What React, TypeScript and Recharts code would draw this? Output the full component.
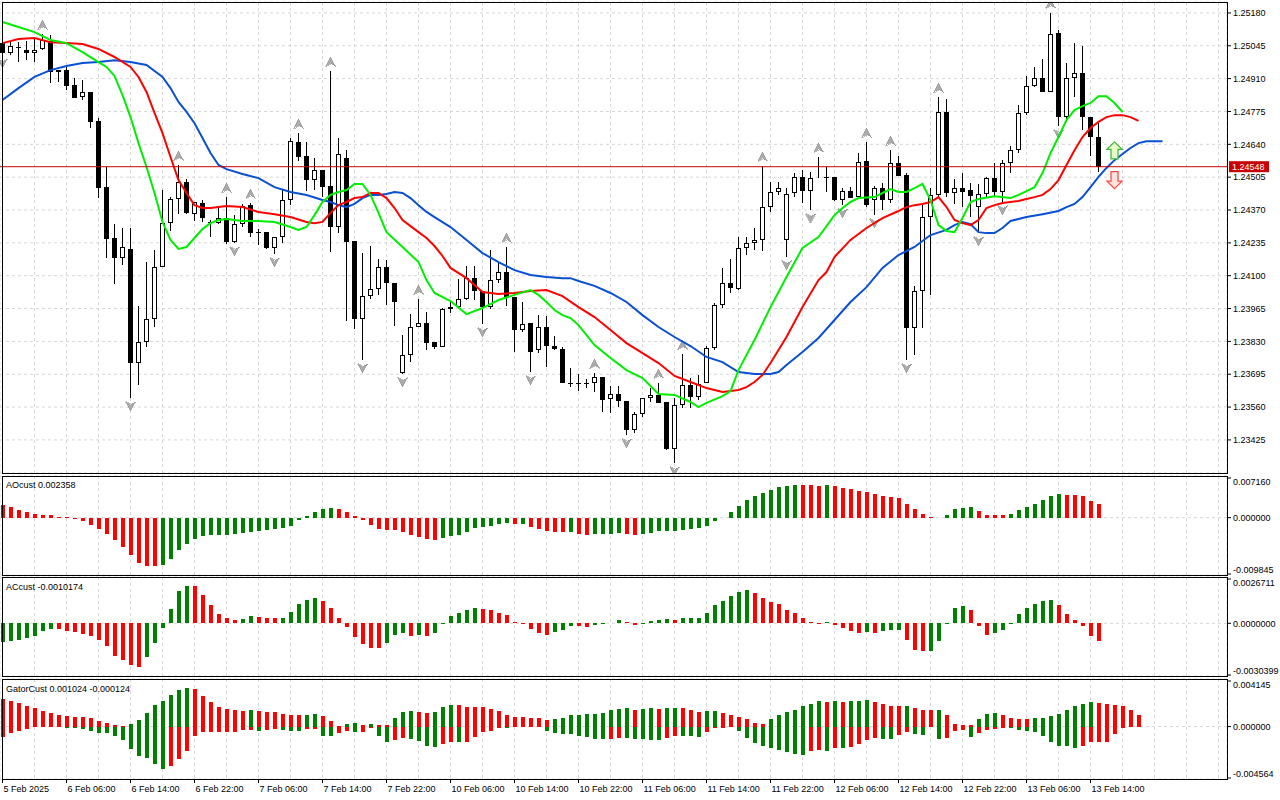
import React from 'react';
import {
  ComposedChart,
  Bar,
  Line,
  XAxis,
  YAxis,
  CartesianGrid,
  ReferenceLine,
  ReferenceDot,
} from 'recharts';

// ---- price data (H1 candles, 5 Feb 22:00 .. 13 Feb 15:00) ----
const opens = [
  1.25056, 1.25015, 1.2504, 1.25027, 1.25015, 1.25032, 1.25064, 1.24937, 1.24945, 1.24884,
  1.24834, 1.24855, 1.24736, 1.24464, 1.24255, 1.24173, 1.2421, 1.23741, 1.23827, 1.23922,
  1.24136, 1.24316, 1.24415, 1.24485, 1.24353, 1.24399, 1.24321, 1.24316, 1.24337, 1.24238,
  1.24312, 1.2439, 1.24279, 1.24279, 1.24214, 1.24259, 1.24411, 1.24649, 1.24592, 1.24493,
  1.24534, 1.24469, 1.243, 1.24584, 1.24242, 1.23922, 1.24016, 1.24045, 1.24136, 1.2407,
  1.237, 1.23774, 1.23889, 1.23905, 1.23827, 1.23807, 1.23963, 1.23971, 1.24004, 1.2409,
  1.24037, 1.23971, 1.24082, 1.24115, 1.24012, 1.23877, 1.23905, 1.23794, 1.23889, 1.23811,
  1.23799, 1.23659, 1.23659, 1.23659, 1.23659, 1.23684, 1.23593, 1.23614, 1.23585, 1.23466,
  1.23531, 1.23597, 1.2361, 1.23581, 1.23388, 1.23568, 1.23651, 1.23601, 1.23659, 1.23803,
  1.23979, 1.2407, 1.24045, 1.24214, 1.24234, 1.24247, 1.24382, 1.24444, 1.24247, 1.2444,
  1.24506, 1.24448, 1.24501, 1.24506, 1.24506, 1.24411, 1.24448, 1.24423, 1.24571, 1.24411,
  1.2446, 1.24411, 1.24563, 1.24514, 1.23885, 1.24037, 1.24341, 1.24432, 1.24773, 1.2444,
  1.2446, 1.24452, 1.24382, 1.24436, 1.24501, 1.24444, 1.24563, 1.24616, 1.24769, 1.2488,
  1.24912, 1.24855, 1.25097, 1.24752, 1.24912, 1.24933, 1.24752, 1.2467,
];
const highs = [
  1.25069, 1.25064, 1.2506, 1.25064, 1.25077, 1.25093, 1.25089, 1.24945, 1.24966, 1.24912,
  1.24904, 1.24855, 1.24748, 1.24547, 1.24312, 1.24296, 1.24296, 1.23975, 1.24156, 1.24205,
  1.24452, 1.24423, 1.24555, 1.24497, 1.24403, 1.24411, 1.24329, 1.24382, 1.24423, 1.24349,
  1.24395, 1.24399, 1.24292, 1.24279, 1.24259, 1.24452, 1.24666, 1.24686, 1.24649, 1.24584,
  1.24534, 1.24941, 1.24666, 1.24616, 1.24242, 1.24193, 1.24222, 1.24169, 1.24164, 1.2407,
  1.23856, 1.23942, 1.24004, 1.23951, 1.23827, 1.23967, 1.24, 1.24086, 1.2414, 1.2414,
  1.24037, 1.24205, 1.24156, 1.24218, 1.24012, 1.23992, 1.23905, 1.23938, 1.23934, 1.23852,
  1.23807, 1.23721, 1.23696, 1.23675, 1.237, 1.23684, 1.23647, 1.23647, 1.23585, 1.2354,
  1.23597, 1.23638, 1.23659, 1.23581, 1.23597, 1.23778, 1.23679, 1.23692, 1.23811, 1.23988,
  1.24132, 1.24169, 1.24259, 1.24259, 1.24296, 1.24551, 1.24485, 1.24485, 1.2446, 1.24522,
  1.24534, 1.24526, 1.24588, 1.24547, 1.24506, 1.2446, 1.24464, 1.24604, 1.24649, 1.24469,
  1.24481, 1.24616, 1.24592, 1.24522, 1.24058, 1.24395, 1.2446, 1.24834, 1.24826, 1.24497,
  1.24522, 1.24481, 1.24477, 1.24506, 1.24563, 1.24575, 1.24633, 1.24801, 1.24921, 1.24958,
  1.24991, 1.2518, 1.2511, 1.24974, 1.25056, 1.25044, 1.24752, 1.24732,
];
const lows = [
  1.25007, 1.25007, 1.24978, 1.24986, 1.24978, 1.25027, 1.24892, 1.24896, 1.24863, 1.2483,
  1.24822, 1.24707, 1.24419, 1.24173, 1.24066, 1.24144, 1.23597, 1.23651, 1.23807, 1.23889,
  1.24136, 1.24284, 1.24353, 1.24353, 1.24325, 1.24321, 1.24259, 1.24312, 1.2423, 1.24234,
  1.243, 1.24259, 1.24226, 1.2421, 1.24189, 1.24234, 1.2439, 1.24571, 1.24448, 1.24452,
  1.24423, 1.24197, 1.24275, 1.23914, 1.23881, 1.23753, 1.24004, 1.24021, 1.23979, 1.23893,
  1.23696, 1.23745, 1.23889, 1.23794, 1.23799, 1.23807, 1.23947, 1.23971, 1.24, 1.24,
  1.23901, 1.23963, 1.2407, 1.23975, 1.23786, 1.23868, 1.23704, 1.23782, 1.23725, 1.23794,
  1.23659, 1.23642, 1.23626, 1.23638, 1.23622, 1.2354, 1.23536, 1.2356, 1.23445, 1.23453,
  1.23519, 1.23581, 1.23577, 1.23383, 1.2333, 1.23556, 1.23556, 1.23589, 1.23659, 1.23794,
  1.23967, 1.24029, 1.24041, 1.24185, 1.24205, 1.24201, 1.24362, 1.24432, 1.24177, 1.24423,
  1.24399, 1.2437, 1.24501, 1.24444, 1.24407, 1.2439, 1.24419, 1.24423, 1.24382, 1.24349,
  1.2437, 1.24399, 1.2451, 1.23753, 1.23774, 1.23885, 1.24021, 1.24423, 1.24423, 1.24395,
  1.24382, 1.24341, 1.24275, 1.24419, 1.24427, 1.24403, 1.24522, 1.24604, 1.2476, 1.24875,
  1.24855, 1.24855, 1.24715, 1.24732, 1.24834, 1.24699, 1.24592, 1.24526,
];
const closes = [
  1.25015, 1.25044, 1.25036, 1.25015, 1.25027, 1.25069, 1.24937, 1.24945, 1.2488, 1.2483,
  1.24855, 1.24732, 1.2446, 1.24251, 1.24173, 1.24218, 1.23741, 1.23827, 1.23922, 1.24136,
  1.24316, 1.24415, 1.24485, 1.24358, 1.24403, 1.24337, 1.24316, 1.24337, 1.24238, 1.24312,
  1.24386, 1.24275, 1.24275, 1.24214, 1.24259, 1.24411, 1.24653, 1.24588, 1.24493, 1.24534,
  1.24464, 1.243, 1.246, 1.24238, 1.23922, 1.24016, 1.24045, 1.24136, 1.2407, 1.23992,
  1.23774, 1.23889, 1.23905, 1.23823, 1.23807, 1.23963, 1.23971, 1.24004, 1.2409, 1.24037,
  1.23971, 1.24082, 1.24115, 1.24012, 1.23877, 1.23901, 1.23786, 1.23889, 1.23811, 1.23799,
  1.23659, 1.23655, 1.23659, 1.23659, 1.23684, 1.23589, 1.23614, 1.23585, 1.23466, 1.23531,
  1.23597, 1.2361, 1.23577, 1.23388, 1.23568, 1.23651, 1.23601, 1.23655, 1.23803, 1.23979,
  1.2407, 1.24049, 1.24214, 1.24234, 1.24247, 1.24382, 1.24444, 1.2446, 1.24436, 1.24506,
  1.24448, 1.24501, 1.24506, 1.24504, 1.24411, 1.24448, 1.24419, 1.24567, 1.2439, 1.2446,
  1.24411, 1.24563, 1.2451, 1.23885, 1.24037, 1.24341, 1.24432, 1.24773, 1.2444, 1.2446,
  1.24444, 1.24427, 1.24436, 1.24501, 1.24444, 1.24563, 1.24616, 1.24769, 1.2488, 1.24912,
  1.24855, 1.25093, 1.24752, 1.24912, 1.24933, 1.24752, 1.2467, 1.24548,
];

// alligator lines, [bar index, price] (already shifted forward)
const jaw: [number, number][] = [
  [0, 1.24822], [2, 1.24871], [4, 1.24917], [6, 1.24945], [8, 1.24962], [10, 1.24974], [12, 1.24978],
  [14, 1.24986], [16, 1.24978], [18, 1.24966], [20, 1.24917], [21, 1.24871], [22, 1.24814], [23, 1.24773],
  [24, 1.24727], [25, 1.24666], [26, 1.24604], [27, 1.24555], [28, 1.24538], [30, 1.24518], [32, 1.24501],
  [34, 1.24464], [36, 1.24444], [38, 1.24432], [40, 1.24411], [41, 1.24403], [42, 1.2439], [43, 1.24382],
  [44, 1.24395], [45, 1.24419], [46, 1.24432], [47, 1.24432], [48, 1.24436], [49, 1.24444], [50, 1.2444],
  [51, 1.24419], [52, 1.2439], [53, 1.24362], [54, 1.24341], [56, 1.243], [58, 1.24247], [60, 1.24193],
  [62, 1.24156], [64, 1.24123], [66, 1.24103], [68, 1.24095], [70, 1.2409], [71, 1.2409], [72, 1.24078],
  [74, 1.24058], [76, 1.24029], [78, 1.23992], [80, 1.23938], [82, 1.23889], [84, 1.23848], [86, 1.23811],
  [88, 1.23766], [90, 1.23745], [92, 1.23704], [94, 1.23696], [96, 1.23696], [97, 1.23704], [98, 1.23733],
  [100, 1.23786], [102, 1.23844], [104, 1.23918], [106, 1.23992], [108, 1.24053], [110, 1.24132],
  [112, 1.24185], [114, 1.24218], [116, 1.24267], [118, 1.24288], [119, 1.24308], [120, 1.24321],
  [121, 1.24312], [122, 1.24279], [123, 1.24275], [124, 1.24275], [125, 1.24296], [126, 1.24325],
  [128, 1.24341], [130, 1.24353], [132, 1.24366], [133, 1.24382], [134, 1.24395], [135, 1.24423],
  [136, 1.24464], [137, 1.24506], [138, 1.24543], [139, 1.24575], [140, 1.246], [141, 1.24625],
  [142, 1.24645], [143, 1.24653], [145, 1.24653],
];
const teeth: [number, number][] = [
  [0, 1.25056], [2, 1.25073], [4, 1.25077], [6, 1.2506], [8, 1.25056], [10, 1.25052], [12, 1.25032],
  [14, 1.24999], [16, 1.24958], [17, 1.24917], [18, 1.24855], [19, 1.24769], [20, 1.24686], [21, 1.24588],
  [22, 1.24493], [23, 1.2444], [24, 1.2439], [25, 1.24378], [26, 1.24378], [27, 1.24382], [28, 1.24386],
  [30, 1.24382], [32, 1.24362], [34, 1.24353], [36, 1.24341], [38, 1.24321], [39, 1.24316], [40, 1.24321],
  [41, 1.24358], [42, 1.2439], [43, 1.24403], [44, 1.24419], [45, 1.24423], [46, 1.2444], [47, 1.2444],
  [48, 1.24419], [49, 1.24378], [50, 1.24329], [52, 1.24279], [53, 1.24255], [54, 1.24222], [55, 1.24181],
  [56, 1.24132], [58, 1.2409], [60, 1.24033], [62, 1.24025], [64, 1.24029], [66, 1.24037], [68, 1.24041],
  [70, 1.24016], [72, 1.23971], [74, 1.2393], [76, 1.23877], [78, 1.23823], [80, 1.23782], [82, 1.23741],
  [84, 1.23688], [86, 1.23663], [88, 1.23638], [90, 1.23622], [92, 1.2363], [93, 1.23642], [94, 1.23663],
  [95, 1.23692], [96, 1.23741], [98, 1.23848], [100, 1.23971], [102, 1.24082], [103, 1.24115],
  [104, 1.24177], [106, 1.24247], [108, 1.24296], [110, 1.24337], [112, 1.24366], [113, 1.24382],
  [114, 1.2439], [115, 1.24395], [116, 1.24403], [117, 1.24423], [118, 1.24382], [119, 1.24329],
  [120, 1.24316], [121, 1.24308], [122, 1.24329], [123, 1.24378], [124, 1.2439], [125, 1.24399],
  [127, 1.24407], [128, 1.24415], [129, 1.24423], [130, 1.24432], [131, 1.24456], [132, 1.24493],
  [133, 1.24555], [134, 1.24616], [135, 1.2467], [136, 1.24707], [137, 1.24732], [138, 1.24752],
  [139, 1.2476], [140, 1.2476], [141, 1.24752], [142, 1.24736],
];
const lips: [number, number][] = [
  [0, 1.25143], [2, 1.25122], [4, 1.25101], [6, 1.25069], [8, 1.25056], [10, 1.25019], [12, 1.24978],
  [13, 1.24958], [14, 1.24921], [15, 1.24842], [16, 1.24752], [17, 1.24645], [18, 1.24547], [19, 1.2444],
  [20, 1.24321], [21, 1.24247], [22, 1.2421], [23, 1.24218], [24, 1.24255], [25, 1.24292], [26, 1.24316],
  [27, 1.24329], [28, 1.24333], [30, 1.24325], [32, 1.24325], [34, 1.24321], [36, 1.243], [37, 1.24288],
  [38, 1.243], [39, 1.24349], [40, 1.24403], [41, 1.24432], [42, 1.24444], [43, 1.24452], [44, 1.24477],
  [45, 1.24477], [46, 1.24432], [47, 1.24358], [48, 1.24279], [50, 1.24218], [52, 1.24156], [53, 1.24082],
  [54, 1.24029], [56, 1.23996], [58, 1.23942], [60, 1.23967], [62, 1.24], [64, 1.24021], [66, 1.24041],
  [67, 1.24021], [68, 1.23992], [69, 1.23959], [70, 1.23938], [71, 1.23926], [72, 1.23897], [74, 1.23815],
  [76, 1.23762], [78, 1.23712], [80, 1.23679], [82, 1.23614], [84, 1.2361], [86, 1.23581], [87, 1.2356],
  [88, 1.23577], [90, 1.23605], [91, 1.23626], [92, 1.23712], [94, 1.23836], [96, 1.23971], [98, 1.24095],
  [100, 1.24214], [102, 1.24259], [104, 1.24349], [105, 1.24378], [106, 1.24403], [107, 1.24419],
  [109, 1.24423], [110, 1.2444], [111, 1.24456], [112, 1.24444], [113, 1.24444], [114, 1.2446],
  [115, 1.24477], [116, 1.24411], [117, 1.24308], [118, 1.24284], [119, 1.24279], [120, 1.24337],
  [121, 1.24403], [122, 1.24415], [124, 1.24427], [126, 1.24419], [127, 1.24432], [128, 1.24448],
  [129, 1.24464], [130, 1.24522], [131, 1.24604], [132, 1.2467], [133, 1.2474], [134, 1.24781],
  [135, 1.24797], [136, 1.2481], [137, 1.24838], [138, 1.24838], [139, 1.2481], [140, 1.24773],
];

// bars carrying a fractal mark
const fractalUps = [5, 22, 28, 31, 37, 41, 52, 63, 74, 82, 85, 95, 102, 108, 111, 117, 131];
const fractalDowns = [0, 16, 29, 34, 45, 50, 60, 66, 78, 84, 98, 101, 105, 109, 113, 122, 125, 132];

// signal arrows right of the last bar
const signalUp = { i: 139, price: 1.24615 };
const signalDown = { i: 139, price: 1.24493 };

const lastPrice = 1.24548;

// ---- oscillators ----
const aoValues = [
  0.00221, 0.00176, 0.00136, 0.00096, 0.00068, 0.00051, 0.00049, 0.00017, 0.00006, -0.00028,
  -0.00062, -0.00119, -0.00187, -0.00272, -0.00386, -0.00505, -0.00646, -0.00782, -0.00828, -0.00834,
  -0.00816, -0.00714, -0.00561, -0.00459, -0.00374, -0.00318, -0.00306, -0.00301, -0.00289, -0.00286,
  -0.00266, -0.00244, -0.00221, -0.00215, -0.00193, -0.00176, -0.00136, -0.0004, 0.00034, 0.00102,
  0.00142, 0.00159, 0.00142, 0.00102, 0.00034, -0.00034, -0.00119, -0.00187, -0.0021, -0.00215,
  -0.00249, -0.00306, -0.00335, -0.00369, -0.00386, -0.00352, -0.00318, -0.00289, -0.00249, -0.00181,
  -0.00164, -0.00136, -0.00113, -0.00096, -0.00113, -0.00111, -0.00164, -0.00198, -0.00232, -0.00249,
  -0.00252, -0.00248, -0.00272, -0.00289, -0.00286, -0.00283, -0.00272, -0.00269, -0.00275, -0.00289,
  -0.00284, -0.00261, -0.00232, -0.0023, -0.00227, -0.00215, -0.00198, -0.00176, -0.00147, -0.00062,
  -0.00011, 0.00102, 0.00204, 0.00306, 0.00374, 0.0042, 0.00476, 0.00522, 0.00544, 0.00561,
  0.00559, 0.00557, 0.00544, 0.00561, 0.00544, 0.00516, 0.00493, 0.00465, 0.00448, 0.00408,
  0.00374, 0.00363, 0.00346, 0.00238, 0.00142, 0.00068, 0.00006, -0.00005, 0.00051, 0.00142,
  0.00159, 0.00176, 0.00108, 0.00051, 0.00049, 0.00047, 0.00068, 0.00125, 0.00176, 0.00238,
  0.00312, 0.00374, 0.00408, 0.00391, 0.00389, 0.00374, 0.00289, 0.002358,
];
const acValues = [
  -0.00105, -0.00101, -0.00095, -0.00086, -0.00072, -0.00044, -0.00032, -0.00033, -0.00042, -0.00051,
  -0.00061, -0.00074, -0.00095, -0.00133, -0.00186, -0.00209, -0.00243, -0.00251, -0.00192, -0.00114,
  -0.00025, 0.0008, 0.00184, 0.00217, 0.00215, 0.00165, 0.00103, 0.00051, 0.00029, 0.00019,
  0.00027, 0.0004, 0.00036, 0.00029, 0.00028, 0.00029, 0.00063, 0.00114, 0.00137, 0.00148,
  0.00127, 0.00086, 0.00029, -0.00019, -0.0008, -0.00118, -0.00141, -0.00142, -0.00114, -0.00065,
  -0.00057, -0.00074, -0.00068, -0.00075, -0.00057, -0.00004, 0.00042, 0.00057, 0.00076, 0.00091,
  0.00082, 0.00076, 0.00059, 0.00046, 0.00006, -0.00004, -0.00032, -0.00057, -0.00068, -0.00051,
  -0.00038, -0.00015, -0.00017, -0.00019, -0.0001, -0.00006, 0.00004, 0.00017, 0.00006, -0.0001,
  -0.00004, 0.00011, 0.00021, 0.00023, 0.00017, 0.00029, 0.0003, 0.00031, 0.00057, 0.00103,
  0.00131, 0.0016, 0.00182, 0.00194, 0.00177, 0.00148, 0.00125, 0.00114, 0.00075, 0.00057,
  0.00029, 0.00006, -0.00002, 0.00006, -0.0001, -0.00027, -0.00044, -0.00055, -0.00049, -0.00055,
  -0.00044, -0.0004, -0.00038, -0.00095, -0.00152, -0.00158, -0.00157, -0.00101, -0.00004, 0.00086,
  0.00097, 0.00076, -0.00015, -0.00067, -0.00055, -0.00038, -0.00004, 0.00051, 0.00086, 0.00114,
  0.00131, 0.00137, 0.00103, 0.00051, 0.00017, -0.00017, -0.00072, -0.0010174,
];
const gatorUpper = [
  0.00241, 0.00226, 0.00203, 0.00183, 0.00165, 0.00139, 0.00122, 0.00104, 0.00096, 0.00087,
  0.00081, 0.00078, 0.00052, 0.00035, 0.00015, 0.00009, 0.00023, 0.00061, 0.00122, 0.00189,
  0.00226, 0.00278, 0.00322, 0.00339, 0.00331, 0.00267, 0.00218, 0.00174, 0.00151, 0.00142,
  0.00133, 0.00142, 0.00133, 0.00125, 0.00124, 0.00113, 0.00104, 0.00103, 0.00105, 0.00113,
  0.00096, 0.00052, 0.00009, 0.00026, 0.00029, 0.00017, 0.00026, 0.00012, 0.0001, 0.00073,
  0.0013, 0.00133, 0.00131, 0.00122, 0.0013, 0.00174, 0.00191, 0.0019, 0.00174, 0.00173,
  0.00172, 0.00157, 0.00133, 0.00104, 0.00087, 0.00086, 0.00078, 0.00073, 0.00055, 0.0007,
  0.00078, 0.00104, 0.00105, 0.00113, 0.00114, 0.00122, 0.00142, 0.00157, 0.00158, 0.00148,
  0.00157, 0.00158, 0.00157, 0.00158, 0.00165, 0.00164, 0.00148, 0.00131, 0.00133, 0.00139,
  0.00122, 0.00104, 0.00087, 0.0007, 0.00035, 0.00026, 0.0007, 0.00104, 0.00131, 0.00148,
  0.00183, 0.002, 0.00226, 0.00218, 0.00219, 0.00218, 0.00226, 0.00227, 0.00228, 0.00218,
  0.002, 0.00183, 0.00182, 0.00183, 0.00165, 0.00148, 0.00147, 0.00148, 0.00104, 0.00026,
  0.00017, 0.00015, 0.0007, 0.00113, 0.00122, 0.00104, 0.00078, 0.0007, 0.00069, 0.00073,
  0.00078, 0.0009, 0.00113, 0.00148, 0.00183, 0.002, 0.00218, 0.00209, 0.002, 0.00191,
  0.00183, 0.00148, 0.001024,
];
const gatorLower = [
  -0.00087, -0.00058, -0.00041, -0.00023, -0.00005, -0.00002, -0.00004, -0.00005, -0.00008, -0.00012,
  -0.00023, -0.00041, -0.00052, -0.00058, -0.00078, -0.00119, -0.00197, -0.00258, -0.00276, -0.00322,
  -0.00371, -0.00345, -0.00281, -0.00209, -0.00078, -0.00049, -0.00048, -0.00047, -0.00046, -0.00045,
  -0.00029, -0.00028, -0.00041, -0.00026, -0.00025, -0.00032, -0.00041, -0.00042, -0.00023, -0.00022,
  -0.00078, -0.0008, -0.00058, -0.00038, -0.00049, -0.00048, -0.00009, -0.00078, -0.00136, -0.00116,
  -0.00102, -0.00107, -0.00122, -0.00165, -0.0018, -0.00151, -0.00131, -0.00136, -0.0013, -0.00093,
  -0.00049, -0.00035, -0.00015, -0.00016, -0.00006, -0.00005, -0.00006, -0.00005, -0.00041, -0.00058,
  -0.00067, -0.00068, -0.00078, -0.00093, -0.00107, -0.00108, -0.00107, -0.00101, -0.00102, -0.00107,
  -0.00108, -0.00113, -0.00119, -0.00101, -0.00078, -0.0008, -0.00082, -0.00093, -0.00049, -0.00015,
  -0.00012, -0.00006, -0.00041, -0.00101, -0.00145, -0.00165, -0.00183, -0.002, -0.00218, -0.00235,
  -0.00244, -0.00209, -0.002, -0.00209, -0.00189, -0.0019, -0.00174, -0.00154, -0.00119, -0.00101,
  -0.0011, -0.00111, -0.00075, -0.00049, -0.00067, -0.00075, -0.00006, -0.0011, -0.00096, -0.00035,
  -0.00026, -0.00093, -0.00058, -0.00032, -0.00023, -0.00012, -0.00015, -0.00029, -0.00041, -0.00049,
  -0.00084, -0.00136, -0.00165, -0.00171, -0.00189, -0.00171, -0.00136, -0.00131, -0.0013, -0.00061,
  -0.000124,
];

// ---- axes ----
const priceTicks = [
  1.2518, 1.25045, 1.2491, 1.24775, 1.2464, 1.24505, 1.2437, 1.24235, 1.241, 1.23965, 1.2383, 1.23695,
  1.2356, 1.23425,
];
const aoScale = [0.00716, 0, -0.009845];
const acScale = [0.0026711, 0, -0.0030399];
const gatorScale = [0.004145, 0, -0.004564];
const timeTicks = [0, 8, 16, 24, 32, 40, 48, 56, 64, 72, 80, 88, 96, 104, 112, 120, 128, 136];
const timeLabels = [
  '5 Feb 2025', '6 Feb 06:00', '6 Feb 14:00', '6 Feb 22:00', '7 Feb 06:00', '7 Feb 14:00',
  '7 Feb 22:00', '10 Feb 06:00', '10 Feb 14:00', '10 Feb 22:00', '11 Feb 06:00', '11 Feb 14:00',
  '11 Feb 22:00', '12 Feb 06:00', '12 Feb 14:00', '12 Feb 22:00', '13 Feb 06:00', '13 Feb 14:00',
];

const FONT = '"Liberation Sans", Arial, sans-serif';
const FS = 9;
const W = 1280;
const AXIS_W = 53;
const X_DOMAIN: [number, number] = [-0.3125, 153.0625];
const GREEN = '#008000';
const RED = '#ff0000';
const GRID = '#d6d6d6';
const gridIdx = Array.from({ length: 39 }, (_, k) => k * 4);

// green when the bar grows compared with the one before it
const trend = (vals: number[], firstUp: boolean, byAbs = false) =>
  vals.map((v, k) => {
    if (k === 0) return firstUp ? GREEN : RED;
    const a = byAbs ? Math.abs(v) : v;
    const b = byAbs ? Math.abs(vals[k - 1]) : vals[k - 1];
    return a > b ? GREEN : RED;
  });

const mainRows: any[] = Array.from({ length: 146 }, (_, i) => ({
  i,
  range: i < opens.length ? [lows[i], highs[i]] : null,
  open: opens[i],
  close: closes[i],
  fracUp: fractalUps.includes(i),
  fracDown: fractalDowns.includes(i),
  jaw: null,
  teeth: null,
  lips: null,
}));
jaw.forEach(([i, v]) => (mainRows[i].jaw = v));
teeth.forEach(([i, v]) => (mainRows[i].teeth = v));
lips.forEach(([i, v]) => (mainRows[i].lips = v));

const aoColors = trend(aoValues, false);
const aoRows = aoValues.map((v, i) => ({ i, v, c: aoColors[i] }));
const acColors = trend(acValues, true);
const acRows = acValues.map((v, i) => ({ i, v, c: acColors[i] }));
const upColors = trend(gatorUpper, false, true);
const dnColors = trend(gatorLower, false, true);
const gatorRows = gatorUpper.map((v, i) => ({
  i,
  up: v,
  down: i < gatorLower.length ? gatorLower[i] : null,
  uc: upColors[i],
  dc: i < gatorLower.length ? dnColors[i] : RED,
}));

const fractalArrow = (cx: number, cy: number, up: boolean, key: string) => {
  const s = up ? 1 : -1;
  const d = `M${cx},${cy - 5 * s} L${cx + 5},${cy + 4.5 * s} L${cx},${cy + 1.5 * s} L${cx - 5},${cy + 4.5 * s} Z`;
  return <path key={key} d={d} fill="#ababab" stroke="#8f8f8f" strokeWidth={0.6} />;
};

function Candle(props: any) {
  const { x, y, width, height, payload } = props;
  if (!payload || !payload.range || y == null || isNaN(y)) return null;
  const [lo, hi] = payload.range;
  const top = Math.min(y, y + height);
  const h = Math.abs(height);
  const py = (p: number) => top + ((hi - p) / (hi - lo || 1)) * h;
  const col = Math.floor(x + width / 2);
  const yo = Math.round(py(payload.open));
  const yc = Math.round(py(payload.close));
  const bull = payload.close > payload.open;
  const bTop = Math.min(yo, yc);
  const bBot = Math.max(yo, yc);
  return (
    <g shapeRendering="crispEdges">
      <line x1={col + 0.5} x2={col + 0.5} y1={Math.round(top)} y2={Math.round(top + h)} stroke="#000" />
      {bull ? (
        <rect x={col - 1.5} y={bTop + 0.5} width={4} height={Math.max(bBot - bTop - 1, 0)} fill="#fff" stroke="#000" />
      ) : bBot - bTop < 1 ? (
        <line x1={col - 2} x2={col + 3} y1={bTop + 0.5} y2={bTop + 0.5} stroke="#000" />
      ) : (
        <rect x={col - 2} y={bTop} width={5} height={bBot - bTop} fill="#000" />
      )}
      {payload.fracUp && fractalArrow(col + 0.5, top - 9, true, 'u')}
      {payload.fracDown && fractalArrow(col + 0.5, top + h + 8, false, 'd')}
    </g>
  );
}

const histShape = (colorKey: string) => (props: any) => {
  const { x, y, width, height, payload } = props;
  if (y == null || isNaN(y) || height == null) return null;
  const top = Math.min(y, y + height);
  const h = Math.abs(height);
  return (
    <rect
      x={Math.floor(x + width / 2) - 1.5}
      y={top}
      width={4}
      height={Math.max(h, 0.6)}
      fill={payload[colorKey]}
      shapeRendering="crispEdges"
    />
  );
};

const PriceTick = (props: any) => {
  const { x, y, payload } = props;
  return (
    <g>
      <line x1={x} x2={x + 4} y1={y} y2={y} stroke="#000" />
      <text x={x + 6} y={y} dy="0.36em" fontSize={FS} fontFamily={FONT} fill="#000">
        {payload.value.toFixed(5)}
      </text>
    </g>
  );
};

// MT-style scale: end labels sit just inside the window edges
const scaleTick = (scale: number[], digits: number) => (props: any) => {
  const { x, y, payload } = props;
  const v = payload.value;
  const tickY = v === scale[0] ? y + 2 : v === scale[2] ? y - 1 : y;
  const textY = v === scale[0] ? y + 6 : v === scale[2] ? y - 5 : y;
  return (
    <g>
      <line x1={x} x2={x + 4} y1={tickY} y2={tickY} stroke="#000" />
      <text x={x + 6} y={textY} dy="0.36em" fontSize={FS} fontFamily={FONT} fill="#000">
        {v.toFixed(digits)}
      </text>
    </g>
  );
};

const TimeTick = (props: any) => {
  const { x, y, payload } = props;
  const k = timeTicks.indexOf(payload.value);
  if (k < 0) return <g />;
  return (
    <g>
      <line x1={x} x2={x} y1={y} y2={y + 4} stroke="#000" />
      <text x={x + 1} y={y + 12.5} fontSize={FS} fontFamily={FONT} fill="#000">
        {timeLabels[k]}
      </text>
    </g>
  );
};

const PriceTag = (props: any) => {
  const { x, y, width } = props.viewBox;
  return (
    <g>
      <rect x={x + width + 2} y={y - 5.5} width={40} height={11} fill="#c80000" />
      <text x={x + width + 5} y={y} dy="0.36em" fontSize={FS} fontFamily={FONT} fill="#fff">
        {lastPrice.toFixed(5)}
      </text>
    </g>
  );
};

const arrowPath = (cx: number, cy: number, s: number) =>
  `M${cx},${cy - 8.5 * s} L${cx + 7.5},${cy - 1 * s} L${cx + 3.5},${cy - 1 * s} L${cx + 3.5},${cy + 8.5 * s} ` +
  `L${cx - 3.5},${cy + 8.5 * s} L${cx - 3.5},${cy - 1 * s} L${cx - 7.5},${cy - 1 * s} Z`;

const frame = (top: number, height: number): React.CSSProperties => ({
  position: 'absolute',
  left: 2,
  top,
  width: 1226,
  height,
  boxSizing: 'border-box',
  border: '1px solid #000',
  pointerEvents: 'none',
});

const labelStyle = (top: number): React.CSSProperties => ({
  position: 'absolute',
  left: 6,
  top,
  fontFamily: FONT,
  fontSize: FS,
  lineHeight: '10px',
  color: '#000',
  whiteSpace: 'nowrap',
});

function Oscillator({ rows, scale, digits, top }: { rows: any[]; scale: number[]; digits: number; top: number }) {
  return (
    <div style={{ position: 'absolute', left: 0, top }}>
      <ComposedChart width={W} height={99} data={rows} margin={{ top: 0, right: 0, bottom: 0, left: 0 }}>
        <CartesianGrid stroke={GRID} strokeDasharray="3 3" />
        <XAxis dataKey="i" type="number" domain={X_DOMAIN} ticks={gridIdx} interval={0} allowDataOverflow hide />
        <YAxis
          orientation="right"
          width={AXIS_W}
          type="number"
          domain={[scale[2], scale[0]]}
          ticks={scale}
          interval={0}
          allowDataOverflow
          axisLine={false}
          tickLine={false}
          tickSize={0}
          tickMargin={0}
          tick={scaleTick(scale, digits)}
        />
        <Bar dataKey="v" barSize={4} shape={histShape('c')} isAnimationActive={false} />
      </ComposedChart>
    </div>
  );
}

export default function App() {
  return (
    <div style={{ position: 'relative', width: W, height: 800, background: '#fff', overflow: 'hidden' }}>
      <style>{'body{margin:0} .recharts-surface{overflow:visible}'}</style>

      <div style={{ position: 'absolute', left: 0, top: 2 }}>
        <ComposedChart width={W} height={471} data={mainRows} margin={{ top: 0, right: 0, bottom: 0, left: 0 }}>
          <CartesianGrid stroke={GRID} strokeDasharray="3 3" />
          <XAxis dataKey="i" type="number" domain={X_DOMAIN} ticks={gridIdx} interval={0} allowDataOverflow hide />
          <YAxis
            orientation="right"
            width={AXIS_W}
            type="number"
            domain={[1.23289, 1.25225]}
            ticks={priceTicks}
            interval={0}
            allowDataOverflow
            axisLine={false}
            tickLine={false}
            tickSize={0}
            tickMargin={0}
            tick={PriceTick}
          />
          <Bar dataKey="range" barSize={5} shape={Candle} isAnimationActive={false} />
          <Line dataKey="jaw" stroke="#0a50d2" strokeWidth={2} dot={false} connectNulls isAnimationActive={false} />
          <Line dataKey="teeth" stroke="#ff0000" strokeWidth={2} dot={false} connectNulls isAnimationActive={false} />
          <Line dataKey="lips" stroke="#00ee00" strokeWidth={2} dot={false} connectNulls isAnimationActive={false} />
          <ReferenceLine y={lastPrice} stroke="#c80000" strokeWidth={1} label={<PriceTag />} />
          <ReferenceDot
            x={signalUp.i}
            y={signalUp.price}
            r={8}
            shape={(p: any) => (
              <path d={arrowPath(p.cx, p.cy, 1)} fill="#eaffc8" stroke="#40b840" strokeWidth={1.3} />
            )}
          />
          <ReferenceDot
            x={signalDown.i}
            y={signalDown.price}
            r={8}
            shape={(p: any) => (
              <path d={arrowPath(p.cx, p.cy, -1)} fill="#ffe4dc" stroke="#ff4a4a" strokeWidth={1.3} />
            )}
          />
        </ComposedChart>
      </div>

      <Oscillator rows={aoRows} scale={aoScale} digits={6} top={476} />
      <Oscillator rows={acRows} scale={acScale} digits={7} top={577} />

      <div style={{ position: 'absolute', left: 0, top: 679 }}>
        <ComposedChart
          width={W}
          height={121}
          data={gatorRows}
          stackOffset="sign"
          margin={{ top: 0, right: 0, bottom: 0, left: 0 }}
        >
          <CartesianGrid stroke={GRID} strokeDasharray="3 3" />
          <XAxis
            dataKey="i"
            type="number"
            domain={X_DOMAIN}
            ticks={gridIdx}
            interval={0}
            allowDataOverflow
            height={21}
            axisLine={false}
            tickLine={false}
            tickSize={0}
            tickMargin={0}
            tick={TimeTick}
          />
          <YAxis
            orientation="right"
            width={AXIS_W}
            type="number"
            domain={[gatorScale[2], gatorScale[0]]}
            ticks={gatorScale}
            interval={0}
            allowDataOverflow
            axisLine={false}
            tickLine={false}
            tickSize={0}
            tickMargin={0}
            tick={scaleTick(gatorScale, 6)}
          />
          <Bar dataKey="up" stackId="g" barSize={4} shape={histShape('uc')} isAnimationActive={false} />
          <Bar dataKey="down" stackId="g" barSize={4} shape={histShape('dc')} isAnimationActive={false} />
        </ComposedChart>
      </div>

      <div style={frame(2, 472)} />
      <div style={frame(476, 100)} />
      <div style={frame(577, 100)} />
      <div style={frame(679, 101)} />

      <div style={labelStyle(480)}>AOcust {aoValues[aoValues.length - 1].toFixed(6)}</div>
      <div style={labelStyle(582)}>ACcust {acValues[acValues.length - 1].toFixed(7)}</div>
      <div style={labelStyle(684)}>
        GatorCust {gatorUpper[gatorUpper.length - 1].toFixed(6)} {gatorLower[gatorLower.length - 1].toFixed(6)}
      </div>
    </div>
  );
}
